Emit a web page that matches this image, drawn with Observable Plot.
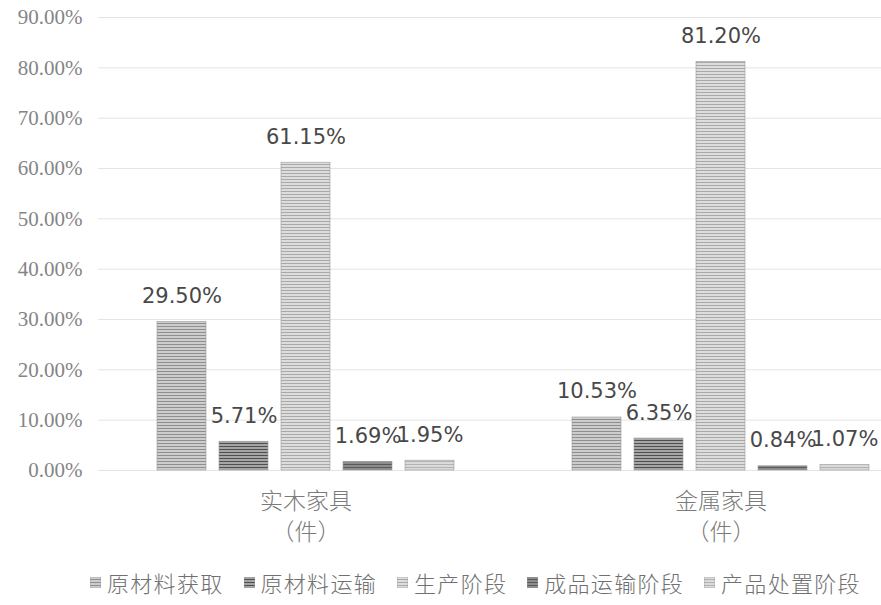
<!DOCTYPE html>
<html>
<head>
<meta charset="utf-8">
<script src="https://cdn.jsdelivr.net/npm/d3@7"></script>
<script src="https://cdn.jsdelivr.net/npm/@observablehq/plot@0.6"></script>
<style>
  body { margin: 0; background: #fff; }
  #legend { display: flex; justify-content: flex-start; align-items: center; gap: 20px;
    font-family: "Noto Sans CJK SC", sans-serif; font-size: 22px; color: #707070;
    font-weight: 300; height: 40px; padding-left: 90px; letter-spacing: 1.3px; }
  #legend .item { display: flex; align-items: center; gap: 6px; }
</style>
</head>
<body>
<div id="chart"></div>
<div id="legend"></div>
<script>
const categories = ["实木家具", "金属家具"];
const unitLabel = "（件）";
const series = ["原材料获取", "原材料运输", "生产阶段", "成品运输阶段", "产品处置阶段"];
const woodValues = [29.50, 5.71, 61.15, 1.69, 1.95];
const metalValues = [10.53, 6.35, 81.20, 0.84, 1.07];
const yTicks = [0, 10, 20, 30, 40, 50, 60, 70, 80, 90];

const patternIds = ["p0", "p1", "p2", "p3", "p4"];
const patternStyles = [
  {base: "#cdcdcd", line: "#8f8f8f"},
  {base: "#a5a5a5", line: "#4f4f4f"},
  {base: "#dddddd", line: "#a9a9a9"},
  {base: "#8d8d8d", line: "#5a5a5a"},
  {base: "#dadada", line: "#b3b3b3"}
];

const data = [];
categories.forEach((c, ci) => {
  const vals = ci === 0 ? woodValues : metalValues;
  series.forEach((s, si) => data.push({category: c, series: s, value: vals[si]}));
});

const chart = Plot.plot({
  width: 881,
  height: 562,
  marginTop: 17,
  marginBottom: 92,
  marginLeft: 88,
  marginRight: 0,
  style: {fontFamily: "Liberation Serif, serif", fontSize: "17px", background: "#fff"},
  fx: {domain: categories, range: [98, 928], padding: 0, axis: null},
  x: {domain: series, paddingInner: 0.21, paddingOuter: 0.95, axis: null},
  y: {domain: [0, 90], label: null},
  color: {domain: series, range: patternIds.map(id => `url(#${id})`)},
  marks: [
    Plot.ruleY(yTicks, {stroke: "#e4e4e4", strokeWidth: 1}),
    Plot.axisY({ticks: yTicks, tickFormat: d => d.toFixed(2) + "%", tickSize: 0, tickPadding: 16,
      label: null, fontSize: 21, fontFamily: "Liberation Serif, serif", color: "#858585"}),
    Plot.barY(data, {fx: "category", x: "series", y: "value", fill: "series", stroke: "#9a9a9a", strokeWidth: 0.6}),
    Plot.text(data, {fx: "category", x: "series", y: "value", text: d => d.value.toFixed(2) + "%",
      lineAnchor: "bottom", dy: -19, fontSize: 21, fill: "#484848", fontFamily: "DejaVu Sans, sans-serif"}),
    Plot.text(categories, {fx: d => d, frameAnchor: "bottom", text: d => d + "\n" + unitLabel,
      lineAnchor: "top", dy: 16, lineHeight: 1.35, fontSize: 23, fill: "#7a7a7a",
      fontFamily: "Noto Sans CJK SC, sans-serif", fontWeight: 300})
  ]
});

const svg = d3.select(chart);
const defs = svg.insert("defs", ":first-child");
patternIds.forEach((id, i) => {
  const p = defs.append("pattern").attr("id", id).attr("patternUnits", "userSpaceOnUse")
    .attr("width", 6).attr("height", 3);
  p.append("rect").attr("width", 6).attr("height", 3).attr("fill", patternStyles[i].base);
  p.append("rect").attr("y", 2).attr("width", 6).attr("height", 1).attr("fill", patternStyles[i].line);
});

// style the y tick labels
svg.selectAll("text").filter(function() { return /^\d+\.00%$/.test(this.textContent); })
  .style("font-size", "21px", "important")
  .style("font-family", "'Liberation Serif', serif", "important")
  .style("fill", "#858585", "important");

document.getElementById("chart").appendChild(chart);

const legend = document.getElementById("legend");
series.forEach((s, i) => {
  const item = document.createElement("div");
  item.className = "item";
  item.innerHTML = `<svg width="11" height="11"><rect width="11" height="11" fill="url(#${patternIds[i]})" stroke="#999" stroke-width="0.6"/></svg><span>${s}</span>`;
  legend.appendChild(item);
});
</script>
</body>
</html>
